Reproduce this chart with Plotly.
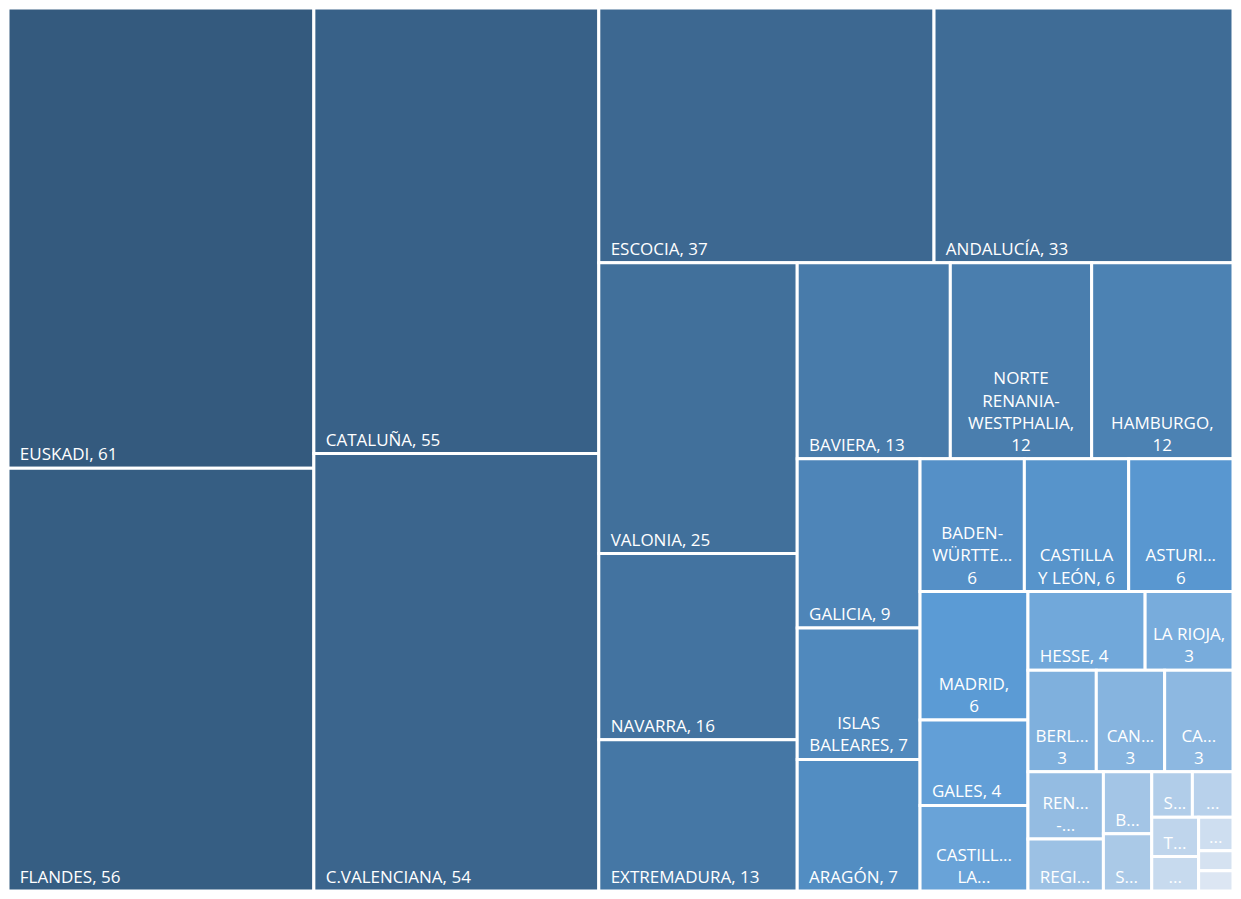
import plotly.graph_objects as go

regions = [
    "EUSKADI", "FLANDES", "CATALUÑA", "C.VALENCIANA", "ESCOCIA", "ANDALUCÍA",
    "VALONIA", "NAVARRA", "EXTREMADURA", "BAVIERA", "NORTE RENANIA-WESTPHALIA",
    "HAMBURGO", "GALICIA", "ISLAS BALEARES", "ARAGÓN", "BADEN-WÜRTTEMBERG",
    "CASTILLA Y LEÓN", "ASTURIAS", "MADRID", "GALES", "CASTILLA-LA MANCHA",
    "HESSE", "LA RIOJA", "BERLÍN", "CANARIAS", "CANTABRIA", "RENANIA-PALATINADO",
    "REGIÓN DE MURCIA", "BRUSELAS", "SAJONIA", "SARRE", "IRLANDA DEL NORTE",
    "TURINGIA", "BAJA SAJONIA", "BRANDEBURGO", "CEUTA", "MELILLA",
]
values = [
    61, 56, 55, 54, 37, 33,
    25, 16, 13, 13, 12,
    12, 9, 7, 7, 6,
    6, 6, 6, 4, 4,
    4, 3, 3, 3, 3, 2.2,
    1.7, 1.3, 1.2, 0.8, 0.8,
    0.8, 0.7, 0.5, 0.3, 0.3,
]
# label text as displayed (wrapped / truncated like the original)
shown = [
    "EUSKADI, 61", "FLANDES, 56", "CATALUÑA, 55", "C.VALENCIANA, 54", "ESCOCIA, 37", "ANDALUCÍA, 33",
    "VALONIA, 25", "NAVARRA, 16", "EXTREMADURA, 13", "BAVIERA, 13", "NORTE<br>RENANIA-<br>WESTPHALIA,<br>12",
    "HAMBURGO,<br>12", "GALICIA, 9", "ISLAS<br>BALEARES, 7", "ARAGÓN, 7", "BADEN-<br>WÜRTTE...<br>6",
    "CASTILLA<br>Y LEÓN, 6", "ASTURI...<br>6", "MADRID,<br>6", "GALES, 4", "CASTILL...<br>LA...",
    "HESSE, 4", "LA RIOJA,<br>3", "BERL...<br>3", "CAN...<br>3", "CA...<br>3", "REN...<br>-...",
    "REGI...", "B...", "S...", "S...", "...",
    "T...", "...", "...", "", "",
]
align = [
    "L", "L", "L", "L", "L", "L",
    "L", "L", "L", "L", "C",
    "C", "L", "C", "L", "C",
    "C", "C", "C", "L", "C",
    "L", "C", "C", "C", "C", "C",
    "L", "L", "L", "L", "C",
    "L", "C", "C", "C", "C",
]

n = len(regions)
rank = list(range(n))
parents = [""] * n
lead = "\u00a0\u00a0"
text_left = [lead + s if a == "L" else "" for s, a in zip(shown, align)]
text_center = [s if a == "C" else "" for s, a in zip(shown, align)]

cscale = [[0.0, "#345a7e"], [0.5, "#5b9bd5"], [1.0, "#dce6f3"]]
font = dict(family="Open Sans, Segoe UI, sans-serif", size=17, color="white")
nopad = dict(t=0, l=0, r=0, b=0)

fig = go.Figure()
fig.add_trace(go.Treemap(
    labels=regions, parents=parents, values=values,
    text=text_left, texttemplate="%{text}", textposition="bottom left",
    marker=dict(colors=rank, colorscale=cscale, cmin=0, cmax=n - 1, showscale=False,
                line=dict(color="white", width=3), pad=nopad),
    root=dict(color="white"),
    tiling=dict(packing="squarify", squarifyratio=1, pad=0),
    pathbar=dict(visible=False),
    textfont=font, sort=True,
    hovertemplate="%{label}: %{value}<extra></extra>",
))
fig.add_trace(go.Treemap(
    labels=regions, parents=parents, values=values,
    text=text_center, texttemplate="%{text}", textposition="bottom center",
    marker=dict(colors=["rgba(0,0,0,0)"] * n,
                line=dict(color="rgba(0,0,0,0)", width=3), pad=nopad),
    root=dict(color="rgba(0,0,0,0)"),
    tiling=dict(packing="squarify", squarifyratio=1, pad=0),
    pathbar=dict(visible=False),
    textfont=font, sort=True, hoverinfo="skip",
))
fig.update_layout(
    width=1225, height=883,
    margin=dict(l=0, t=0, r=0, b=0),
    paper_bgcolor="white",
    uniformtext=dict(minsize=17, mode="show"),
)
fig.write_html("out.html")
